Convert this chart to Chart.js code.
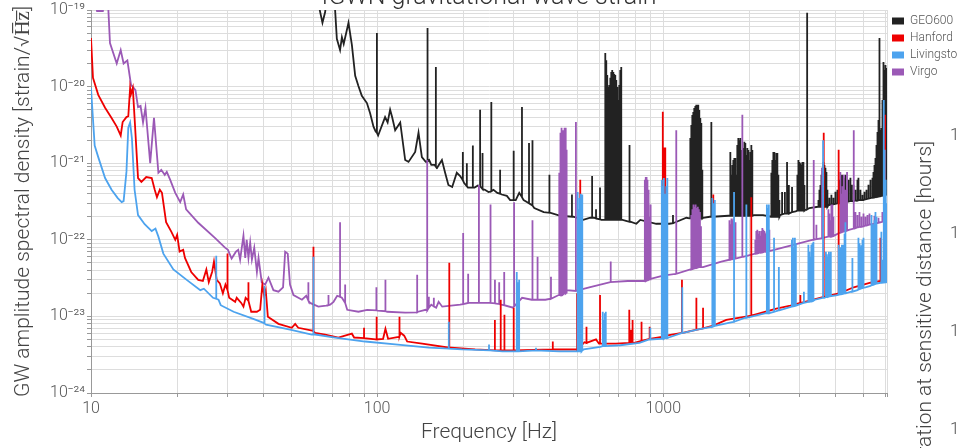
<!DOCTYPE html>
<html><head><meta charset="utf-8">
<script src="https://cdn.jsdelivr.net/npm/chart.js@4.4.1/dist/chart.umd.min.js"></script>
<style>
html,body{margin:0;padding:0;background:#fff;}
#wrap{position:relative;width:959px;height:448px;overflow:hidden;background:#fff;}
#main{position:absolute;left:0;top:-20px;}
#side{position:absolute;left:895px;top:0;}
</style></head><body>
<div id="wrap">
<canvas id="main" width="1010" height="468"></canvas>
<canvas id="side" width="200" height="700"></canvas>
</div>
<script>
const chartTitle = 'IGWN gravitational wave strain';
const xAxisTitle = 'Frequency [Hz]';
const yAxisTitle = 'GW amplitude spectral density [strain/\u221AH\u0305z\u0305]';
const rightAxisTitle = 'Duration at sensitive distance [hours]';
const seriesNames = ['GEO600', 'Hanford', 'Livingston', 'Virgo'];
const seriesColors = ['#222222', '#ee0000', '#4da3ee', '#9b59b6'];

const xMajorTicks = [10, 100, 1000];
const xTickLabels = ['10', '100', '1000'];
const yMajorTicks = [1e-24, 1e-23, 1e-22, 1e-21, 1e-20, 1e-19];
const yTickLabels = ['10\u207B\u00B2\u2074', '10\u207B\u00B2\u00B3', '10\u207B\u00B2\u00B2', '10\u207B\u00B2\u00B9', '10\u207B\u00B2\u2070', '10\u207B\u00B9\u2079'];
const rightMajorTicks = [1, 10, 100, 1000];
const rightTickLabels = ['10\u2070', '10\u00B9', '10\u00B2', '10\u00B3'];

// ---- GEO600: smooth floor [Hz, strain] and narrow lines [Hz, floor, peak]
const geoBase = [
[53.8,5e-18],[62.9,1.03e-19],[64.4,6.8e-20],[65.8,9.4e-20],[67.1,1.8e-19],[70.2,1.8e-19],[71.3,1.0e-19],[72.3,4.2e-20],[74.2,3.0e-20],[75.3,4.4e-20],
[76.4,3.6e-20],[79.4,6.8e-20],[81.6,3.5e-20],[83.8,1.38e-20],[86.0,1.02e-20],[88.4,7.6e-21],[92.1,6.1e-21],[94.5,4.5e-21],[97.1,3.0e-21],[98.8,2.6e-21],
[100.8,2.3e-21],[106.6,4.0e-21],[108.8,3.4e-21],[111,5.0e-21],[112.8,4.0e-21],[115.6,2.7e-21],[120.4,3.4e-21],[125.3,1.1e-21],[128.7,1.04e-21],[135.8,1.4e-21],
[139.5,2.5e-21],[143.3,1.2e-21],[147.8,1.04e-21],[152,1.1e-21],[154.6,9.5e-22],[158.8,9.5e-22],[162,8.7e-22],[168.4,1.1e-21],[172.8,7.5e-22],[177.4,5.2e-22],
[182.9,4.9e-22],[189.8,7.5e-22],[195,6.8e-22],[201.4,5.5e-22],[208,4.8e-22],[219,4.8e-22],[225,5.1e-22],[238,4.5e-22],[245,4.2e-22],[255,4.5e-22],
[263,4.1e-22],[272.5,3.9e-22],[284,3.75e-22],[291.6,3.3e-22],[305,3.3e-22],[313.7,4.1e-22],[325,3.3e-22],[334.7,3.1e-22],[354,2.6e-22],[382,2.3e-22],
[404,2.25e-22],[437,2.06e-22],[484.5,2.0e-22],[525,1.82e-22],[556,1.94e-22],[571.5,1.94e-22],[607,1.82e-22],[625,1.82e-22],[720,1.82e-22],[767,1.72e-22],
[805,1.62e-22],[831,1.82e-22],[945,1.62e-22],[1049,1.62e-22],[1092,1.67e-22],[1204,1.94e-22],[1235,1.9e-22],[1377,1.94e-22],[1454,2.0e-22],[1490,2.0e-22],
[1688,2.06e-22],[2073,2.1e-22],[2231,2.1e-22],[2380,2.0e-22],[2560,2.1e-22],[2900,2.35e-22],[3130,2.45e-22],[3240,2.6e-22],[3470,2.7e-22],[3780,2.85e-22],
[4360,3.1e-22],[5000,3.3e-22],[6050,3.9e-22]];
const geoSpikes = [
[99.8,2.5e-21,5.0e-20],[150,1.05e-21,5.8e-20],[160.4,9.0e-22,1.8e-20],[199.3,6.0e-22,1.4e-21],[205.8,5.0e-22,1.0e-21],[216,4.8e-22,1.7e-21],[229,5.0e-22,5.0e-21],[233.5,4.6e-22,1.36e-21],[250.6,4.3e-22,6.3e-21],[269,4.0e-22,8.2e-22],
[300,3.3e-22,1.45e-21],[320.7,3.6e-22,5.4e-21],[339.4,3.0e-22,1.84e-21],[349,2.8e-22,2.0e-21],[400,2.25e-22,7.05e-22],[479.5,2.0e-22,3.9e-22],[564,1.94e-22,6.8e-22],[582,1.9e-22,2.5e-22],[601,1.85e-22,4.8e-22],
[627,1.82e-22,2.75e-20],[632,1.82e-22,2.2e-20],[637,1.82e-22,1.42e-20],[642,1.82e-22,9.9e-21],[647.5,1.82e-22,1.05e-20],[653,1.82e-22,1.3e-20],[658,1.82e-22,1.55e-20],[663,1.82e-22,1.65e-20],[669,1.82e-22,1.55e-20],[674,1.82e-22,1.46e-20],
[679.5,1.82e-22,1.42e-20],[685,1.82e-22,1.22e-20],[690.5,1.82e-22,9.9e-21],[696,1.82e-22,6.7e-21],[701.7,1.82e-22,1.05e-20],[707.4,1.82e-22,1.65e-20],[713,1.82e-22,1.8e-20],
[762,1.72e-22,1.73e-21],[1081,1.65e-22,2.1e-22],
[1243,1.9e-22,2.14e-21],[1253,1.9e-22,3.16e-21],[1263,1.9e-22,4.27e-21],[1273,1.9e-22,4.67e-21],[1283,1.9e-22,5.27e-21],[1294,1.9e-22,5.6e-21],[1304,1.9e-22,5.78e-21],[1315,1.9e-22,5.78e-21],[1325,1.9e-22,5.78e-21],[1336,1.9e-22,4.95e-21],
[1347,1.9e-22,3.9e-21],[1358,1.9e-22,3.35e-21],[1369,1.9e-22,8.2e-22],
[1472,2.0e-22,3.45e-21],
[1715,2.06e-22,1.4e-21],[1729,2.06e-22,7.05e-22],[1743,2.06e-22,9.5e-22],[1757,2.06e-22,1.1e-21],[1771,2.06e-22,1.17e-21],[1785,2.06e-22,1.17e-21],[1800,2.06e-22,7.05e-22],[1814,2.06e-22,1.73e-21],[1829,2.06e-22,2.14e-21],[1844,2.06e-22,2.0e-21],
[1859,2.06e-22,2.14e-21],[1874,2.06e-22,1.49e-21],[1889,2.06e-22,1.1e-21],[1904,2.06e-22,1.58e-21],[1920,2.06e-22,1.9e-21],[1935,2.06e-22,1.84e-21],[1951,2.06e-22,1.28e-21],[1967,2.06e-22,1.58e-21],[1983,2.06e-22,1.49e-21],[1999,2.06e-22,1.1e-21],
[2015,2.06e-22,1.4e-21],[2031,2.06e-22,1.73e-21],[2047,2.06e-22,1.49e-21],
[2386,2.0e-22,7.5e-22],[2405,2.0e-22,1.1e-21],[2425,2.0e-22,1.4e-21],[2444,2.0e-22,1.4e-21],[2464,2.0e-22,1.1e-21],[2484,2.0e-22,1.36e-21],[2504,2.0e-22,1.36e-21],[2524,2.0e-22,7.05e-22],[2545,2.0e-22,3.3e-22],
[2601,2.15e-22,4.2e-22],[2660,2.2e-22,4.2e-22],[2707,2.2e-22,1.04e-21],[2747,2.2e-22,5.2e-22],[2818,2.3e-22,4.9e-22],
[2942,2.4e-22,7.05e-22],[2966,2.4e-22,1.1e-21],[2990,2.4e-22,1.04e-21],[3014,2.4e-22,1.0e-21],[3038,2.4e-22,9.5e-22],[3063,2.4e-22,1.04e-21],[3088,2.4e-22,1.04e-21],[3113,2.4e-22,5.2e-22],
[3182,2.5e-22,9.2e-20],
[3485,2.7e-22,3.3e-22],[3513,2.7e-22,4.5e-22],[3541,2.7e-22,5.2e-22],[3570,2.7e-22,7.05e-22],[3599,2.7e-22,8.7e-22],[3628,2.7e-22,1.04e-21],[3657,2.7e-22,9.5e-22],[3687,2.7e-22,8.7e-22],[3716,2.7e-22,7.7e-22],[3746,2.7e-22,4.5e-22],
[3806,2.85e-22,3.53e-22],[3868,2.9e-22,3.87e-22],[3931,2.9e-22,3.53e-22],[3995,2.95e-22,4.23e-22],[4060,3.0e-22,4.49e-22],[4126,3.0e-22,6.07e-22],[4193,3.0e-22,7.05e-22],[4227,3.05e-22,7.05e-22],[4261,3.05e-22,6.44e-22],[4330,3.1e-22,7.05e-22],
[4365,3.1e-22,4.49e-22],[4436,3.15e-22,6.07e-22],[4508,3.2e-22,6.44e-22],[4544,3.2e-22,5.22e-22],[4618,3.2e-22,5.22e-22],[4693,3.25e-22,4.49e-22],[4770,3.25e-22,6.07e-22],[4808,3.3e-22,6.44e-22],[4886,3.3e-22,4.49e-22],[4966,3.3e-22,3.87e-22],
[5047,3.35e-22,4.23e-22],[5129,3.4e-22,4.49e-22],[5212,3.45e-22,5.22e-22],[5297,3.5e-22,6.07e-22],[5383,3.55e-22,6.44e-22],[5426,3.55e-22,7.7e-22],[5470,3.6e-22,9.5e-22],[5514,3.6e-22,1.17e-21],[5559,3.65e-22,1.73e-21],[5604,3.65e-22,2.56e-21],
[5649,3.7e-22,3.67e-21],[5695,3.7e-22,4.3e-20],[5741,3.75e-22,2.72e-21],[5787,3.75e-22,2.89e-21],[5834,3.8e-22,6.7e-21],[5881,3.8e-22,2.1e-20],[5928,3.85e-22,1.65e-20],[5976,3.85e-22,1.92e-20],[6024,3.9e-22,1.75e-20],[6045,3.9e-22,1.65e-20]];

// ---- Hanford
const hanBase = [
[10,4.3e-20],[10.16,1.3e-20],[10.6,7.8e-21],[11.2,5.3e-21],[11.8,3.9e-21],[12.3,3.0e-21],[12.7,2.3e-21],[12.9,3.45e-21],[13.3,4.0e-21],[13.5,4.1e-21],
[13.7,9.6e-21],[13.8,8.0e-21],[14.0,9.6e-21],[14.2,3.9e-21],[14.6,6.4e-22],[15.0,5.7e-22],[15.6,6.6e-22],[16.3,6.4e-22],[16.7,4.5e-22],[17.0,3.6e-22],
[17.4,4.5e-22],[17.7,4.1e-22],[18.3,1.7e-22],[19.1,1.27e-22],[19.7,1.0e-22],[20.0,1.16e-22],[20.4,7.0e-23],[21.0,7.4e-23],[21.3,5.8e-23],[22.4,3.8e-23],
[23.7,3.0e-23],[24.6,2.9e-23],[25.3,4.1e-23],[25.8,2.8e-23],[26.5,3.8e-23],[26.9,5.2e-23],[27.5,3.0e-23],[28.2,2.7e-23],[28.9,2.0e-23],[29.5,2.6e-23],
[30.4,1.75e-23],[31.9,1.55e-23],[32.3,1.75e-23],[33.5,1.5e-23],[34.1,1.34e-23],[34.7,1.75e-23],[36.3,1.15e-23],[38.0,1.15e-23],[39.0,1.22e-23],[39.7,2.6e-23],
[40.3,1.86e-23],[40.8,2.2e-23],[41.5,9.9e-24],[45.2,8.0e-24],[50.3,7.1e-24],[51.7,8.0e-24],[53.0,7.1e-24],[59.3,6.5e-24],[60.7,6.1e-24],[65.8,5.8e-24],
[73.2,5.3e-24],[81.6,5.95e-24],[83.1,5.3e-24],[98.8,5.0e-24],[104.9,5.1e-24],[106.9,6.9e-24],[109.2,5.1e-24],[118.9,5.4e-24],[120.8,6.1e-24],[124.3,5.6e-24],
[127.3,4.7e-24],[143.7,4.4e-24],[181.4,3.9e-24],[220,3.7e-24],[300,3.6e-24],[409,3.7e-24],[496,3.7e-24],[530,4.6e-24],[582,5.0e-24],[596,4.4e-24],
[683,4.4e-24],[792,4.5e-24],[842,4.8e-24],[988,5.4e-24],[1024,5.6e-24],[1170,6.1e-24],[1315,6.7e-24],[1502,7.6e-24],[1660,9.0e-24],[1943,9.9e-24],
[2484,1.26e-23],[2781,1.38e-23],[3030,1.5e-23],[3655,1.8e-23],[4120,2.0e-23],[4630,2.4e-23],[5296,2.75e-23],[5926,3.0e-23],[6050,3.1e-23]];
const hanSpikes = [
[30.0,2.2e-23,6.6e-23],[35.5,1.6e-23,2.8e-23],[59.9,6.4e-24,8.1e-23],[90.0,5.2e-24,7.1e-24],[99.6,5.0e-24,9.9e-24],[119.7,5.5e-24,9.9e-24],[178.7,3.9e-24,5.0e-23],[257.9,3.6e-24,9.0e-24],[270.3,3.6e-24,1.65e-23],[278.5,3.6e-24,1.05e-23],
[300.1,3.6e-24,1.3e-23],[411,3.7e-24,4.7e-24],[499.7,3.7e-24,2.0e-23],[512.6,4.0e-24,6.1e-22],[539,4.5e-24,7.3e-24],[601,4.4e-24,1.9e-23],[760.5,4.5e-24,1.22e-23],[770,4.5e-24,6.7e-24],[781,4.5e-24,9.0e-24],[838,4.8e-24,8.5e-24],
[896,5.1e-24,7.3e-24],[996,5.4e-24,4.7e-21],[1003,5.4e-24,1.6e-21],[1010,5.4e-24,1.5e-21],[1016,5.5e-24,1.6e-21],[1162,6.1e-24,3.0e-23],[1305,6.7e-24,1.75e-23],[1377,7.0e-24,1.3e-23],[1492,7.6e-24,3.9e-22],[2030,1.02e-23,3.6e-22],
[3013,1.5e-23,1.9e-23],[3636,1.8e-23,2.5e-21],[4100,2.0e-23,1.5e-21],[5740,2.9e-23,1.06e-22],[5956,3.0e-23,4.3e-21]];

// ---- Livingston
const livBase = [
[10,9.6e-21],[10.3,1.7e-21],[10.6,1.2e-21],[11.2,6.4e-22],[11.8,4.5e-22],[12.4,3.5e-22],[12.8,3.1e-22],[13.0,3.2e-22],[13.3,7.7e-22],[13.5,2.9e-21],
[13.7,3.4e-21],[13.9,2.1e-21],[14.2,4.5e-22],[14.6,2.1e-22],[15.4,1.6e-22],[16.3,1.3e-22],[16.8,1.4e-22],[17.2,1.1e-22],[17.9,6.6e-23],[19.4,4.1e-23],
[21.6,3.0e-23],[24.1,2.2e-23],[24.8,2.3e-23],[26.7,1.75e-23],[27.9,1.65e-23],[28.4,1.4e-23],[31.5,1.15e-23],[36.9,9.3e-24],[39.9,8.3e-24],[40.9,7.8e-24],
[49.6,6.7e-24],[59.1,5.8e-24],[60.7,5.8e-24],[71.3,5.3e-24],[90.8,4.7e-24],[115.6,4.3e-24],[151.6,3.9e-24],[198,3.7e-24],[248,3.6e-24],[274,3.5e-24],
[433,3.5e-24],[498,3.5e-24],[527,3.7e-24],[602,4.0e-24],[707,4.2e-24],[825,4.5e-24],[893,5.0e-24],[980,5.1e-24],[1045,5.3e-24],[1175,6.1e-24],
[1315,6.7e-24],[1472,7.3e-24],[1757,8.5e-24],[1935,9.6e-24],[2283,1.1e-23],[2544,1.2e-23],[2814,1.34e-23],[3088,1.5e-23],[3386,1.65e-23],[3655,1.75e-23],
[4059,1.9e-23],[4544,2.1e-23],[4769,2.2e-23],[5085,2.4e-23],[5296,2.5e-23],[5740,2.75e-23],[6050,2.8e-23]];
const livSpikes = [
[27.4,1.7e-23,6.2e-23],[40.4,8.1e-24,2.5e-23],[59.9,5.8e-24,6.0e-23],[178,3.8e-24,8.5e-24],[246,3.6e-24,4.3e-24],[307.5,3.5e-24,3.8e-23],[309.5,3.5e-24,1.2e-23],[311.5,3.5e-24,2.8e-23],[313.5,3.5e-24,3.0e-23],[359,3.6e-24,3.9e-24],
[502,3.5e-24,4.2e-22],[506,3.5e-24,2.5e-22],[510,3.5e-24,3.5e-22],[514,3.5e-24,4.0e-22],[518,3.5e-24,2.0e-22],[521,3.6e-24,3.9e-22],[614.5,4.1e-24,1.15e-23],[620,4.1e-24,9.0e-24],[625,4.1e-24,1.1e-23],[629.5,4.1e-24,1.15e-23],
[901,5.0e-24,7.1e-24],[988,5.1e-24,6.1e-22],[995,5.1e-24,5.0e-22],[1004,5.1e-24,6.4e-22],[1010,5.2e-24,4.0e-22],[1016,5.2e-24,3.3e-22],[1024,5.2e-24,5.0e-22],[1033,5.2e-24,6.4e-22],[1165,6.1e-24,2.4e-23],[1484,7.3e-24,3.5e-22],
[1499,7.4e-24,3.0e-22],[1514,7.5e-24,3.3e-22],[1767,8.5e-24,4.2e-22],[1951,9.6e-24,2.9e-22],[2301,1.1e-23,2.9e-22],[2320,1.1e-23,2.6e-22],[2338,1.1e-23,2.9e-22],[2438,1.15e-23,1.06e-22],[2534,1.2e-23,4.4e-23],
[2814,1.34e-23,1.0e-22],[2837,1.35e-23,1.06e-22],[2860,1.36e-23,8.0e-23],[2883,1.37e-23,1.06e-22],[2906,1.38e-23,9.0e-23],
[3100,1.5e-23,2.1e-23],
[3214,1.55e-23,8.6e-23],[3240,1.55e-23,7.0e-23],[3266,1.56e-23,6.0e-23],[3292,1.57e-23,8.6e-23],[3320,1.58e-23,9.0e-23],[3347,1.6e-23,9.4e-23],
[3617,1.75e-23,2.0e-21],
[3700,1.78e-23,7.0e-23],[3730,1.8e-23,6.5e-23],[3760,1.8e-23,6.0e-23],[3790,1.82e-23,7.0e-23],[3820,1.83e-23,6.5e-23],[3850,1.84e-23,7.0e-23],
[4100,1.92e-23,8.6e-23],[4135,1.93e-23,7.5e-23],[4170,1.95e-23,8.0e-23],[4210,1.96e-23,8.6e-23],[4260,1.98e-23,8.6e-23],[4300,2.0e-23,1.2e-22],[4329,2.0e-23,1.7e-22],
[4580,2.1e-23,5.8e-23],
[4808,2.25e-23,1.06e-22],[4850,2.27e-23,9.0e-23],[4886,2.3e-23,8.0e-23],[4925,2.32e-23,8.5e-23],[4966,2.35e-23,1.0e-22],[5008,2.37e-23,1.06e-22],
[5340,2.55e-23,2.1e-22],[5380,2.57e-23,1.6e-22],[5426,2.6e-23,1.6e-22],[5470,2.62e-23,1.8e-22],[5514,2.65e-23,2.3e-22],[5559,2.68e-23,2.0e-22],
[5782,2.75e-23,1.27e-22],[5834,2.76e-23,5.5e-23],
[5881,2.77e-23,6.7e-21],[5905,2.78e-23,3.0e-21],[5928,2.78e-23,1.5e-21],[5952,2.79e-23,1.0e-21],[5976,2.79e-23,6.1e-22],[6000,2.8e-23,4.0e-22],[6024,2.8e-23,3.0e-22],[6045,2.8e-23,2.5e-22]];

// ---- Virgo
const virBase = [
[10,2.5e-19],[10.5,9.7e-20],[11.0,9.7e-20],[11.2,1.5e-19],[11.5,1.0e-19],[11.65,3.7e-20],[12.3,2.0e-20],[12.7,3.0e-20],[13.0,2.0e-20],[13.4,2.2e-20],
[13.8,1.05e-20],[14.0,9.9e-21],[14.3,9.0e-21],[14.6,5.4e-21],[14.9,5.6e-21],[15.2,3.4e-21],[15.5,5.3e-21],[16.1,1.0e-21],[16.6,3.9e-21],[17.2,7.5e-22],
[17.6,8.2e-22],[18.1,7.05e-22],[18.4,7.7e-22],[18.9,6.1e-22],[19.7,4.1e-22],[20.5,3.1e-22],[21.0,3.9e-22],[21.5,2.5e-22],[23.7,1.67e-22],[27.1,1.06e-22],
[29.4,7.9e-23],[30.1,7.4e-23],[31.0,5.7e-23],[32.1,7.0e-23],[32.7,7.4e-23],[33.2,5.5e-23],[34.1,1.13e-22],[34.6,5.8e-23],[35.0,1.0e-22],[35.5,5.8e-23],
[36.0,9.2e-23],[36.5,5.5e-23],[37.2,7.9e-23],[38.0,3.8e-23],[38.5,5.8e-23],[39.5,2.8e-23],[40.6,2.6e-23],[41.7,3.2e-23],[43.4,2.2e-23],[45.2,2.1e-23],
[46.9,2.4e-23],[47.7,7.0e-23],[48.7,6.6e-23],[49.6,2.6e-23],[51.0,1.9e-23],[54.6,1.65e-23],[56.5,1.86e-23],[58.3,1.5e-23],[62.3,1.34e-23],[66.3,1.38e-23],
[68.5,1.42e-23],[70.4,1.55e-23],[72.5,1.86e-23],[75.3,1.75e-23],[78.6,1.22e-23],[86.0,1.15e-23],[92.3,1.22e-23],[100.4,1.19e-23],[108.4,1.15e-23],[125.3,1.12e-23],
[139,1.15e-23],[147.8,1.22e-23],[154.6,1.42e-23],[160.8,1.3e-23],[164,1.55e-23],[168.8,1.34e-23],[195.1,1.42e-23],[213,1.5e-23],[245,1.5e-23],[271,1.42e-23],
[298.5,1.3e-23],[321,1.75e-23],[347,1.65e-23],[387,1.65e-23],[431,1.9e-23],[460,2.2e-23],[551,2.4e-23],[653,2.8e-23],[751,2.9e-23],[855,2.9e-23],
[998,3.4e-23],[1243,4.1e-23],[1377,4.4e-23],[1595,5.2e-23],[1900,6.0e-23],[2383,7.2e-23],[2781,8.4e-23],[3316,1.0e-22],[3899,1.12e-22],[4452,1.35e-22],
[5008,1.5e-22],[6050,1.75e-22]];
const virSpikes = [
[57.5,1.6e-23,2.8e-23],[67.6,1.4e-23,1.9e-23],[74.2,1.8e-23,1.7e-22],[77.3,1.5e-23,2.6e-23],[99.4,1.2e-23,2.4e-23],[106.9,1.17e-23,3.0e-23],[138,1.13e-23,3.5e-23],[149.6,1.2e-23,1.1e-21],[151.6,1.3e-23,1.8e-23],[157.8,1.35e-23,1.75e-23],
[199.8,1.45e-23,1.23e-22],[208,1.5e-23,3.6e-23],[226.8,1.5e-23,5.2e-22],[249,1.5e-23,2.9e-22],[258,1.48e-23,3.0e-23],[267,1.45e-23,2.8e-23],[278,1.4e-23,3.8e-23],[301,1.35e-23,3.1e-22],[349,1.65e-23,1.8e-22],[363.6,1.65e-23,6.0e-23],
[405,1.7e-23,3.3e-23],
[433,1.9e-23,7.5e-22],[436,1.9e-23,1.5e-21],[438,1.9e-23,2.5e-21],[441,1.9e-23,2.9e-21],[444,1.95e-23,2.0e-21],[447,1.95e-23,2.7e-21],[450,2.0e-23,2.4e-21],[453,2.0e-23,2.9e-21],[456,2.0e-23,2.9e-21],[459,2.05e-23,1.5e-21],
[495,2.15e-23,3.45e-21],[655,2.8e-23,5.2e-23],
[862,2.9e-23,6.1e-22],[866,2.9e-23,5.5e-22],[870,2.9e-23,6.6e-22],[874,2.95e-23,6.6e-22],[878,2.95e-23,5.0e-22],[882,3.0e-23,6.1e-22],[886,3.0e-23,4.5e-22],[890,3.0e-23,3.5e-22],[895,3.05e-23,2.0e-22],[900,3.05e-23,2.9e-22],[905,3.1e-23,1.5e-22],
[1110,3.6e-23,2.7e-21],
[1253,4.1e-23,2.1e-22],[1264,4.15e-23,2.5e-22],[1275,4.2e-23,2.9e-22],[1286,4.25e-23,2.7e-22],[1297,4.3e-23,2.9e-22],[1308,4.3e-23,2.6e-22],[1320,4.35e-23,2.7e-22],[1331,4.4e-23,2.5e-22],[1343,4.4e-23,2.3e-22],[1354,4.4e-23,1.5e-22],
[1703,5.5e-23,1.8e-22],[1717,5.5e-23,1.6e-22],[1731,5.55e-23,1.9e-22],[1745,5.6e-23,1.8e-22],[1759,5.6e-23,1.9e-22],[1773,5.65e-23,1.7e-22],[1788,5.7e-23,1.7e-22],
[1889,6.0e-23,4.3e-21],
[2097,6.6e-23,1.0e-22],[2114,6.6e-23,1.3e-22],[2131,6.7e-23,1.35e-22],[2148,6.7e-23,1.2e-22],[2166,6.8e-23,1.3e-22],[2184,6.8e-23,1.13e-22],[2201,6.8e-23,1.3e-22],[2219,6.9e-23,1.43e-22],[2237,6.9e-23,1.35e-22],[2255,7.0e-23,1.3e-22],
[2274,7.0e-23,1.2e-22],[2292,7.0e-23,1.25e-22],[2311,7.1e-23,1.3e-22],[2330,7.1e-23,1.35e-22],[2348,7.1e-23,1.35e-22],
[3355,1.0e-22,1.1e-21],[3428,1.02e-22,1.57e-22],[3589,1.05e-22,8.7e-22],
[3775,1.1e-22,2.5e-22],[3806,1.1e-22,2.2e-22],[3837,1.1e-22,1.8e-22],[3868,1.1e-22,2.9e-22],[3899,1.12e-22,2.9e-22],[3931,1.12e-22,2.0e-22],
[4157,1.25e-22,7.7e-22],[4190,1.25e-22,4.0e-22],[4226,1.27e-22,5.0e-22],[4272,1.28e-22,7.05e-22],[4330,1.3e-22,4.5e-22],[4387,1.32e-22,7.7e-22],
[4630,1.4e-22,2.7e-21],
[4693,1.42e-22,2.3e-22],[4770,1.45e-22,2.1e-22],[4848,1.47e-22,2.3e-22],[4926,1.48e-22,2.0e-22],[5007,1.5e-22,2.2e-22],[5088,1.53e-22,2.0e-22],[5170,1.55e-22,2.1e-22],[5254,1.58e-22,2.2e-22],
[5470,1.62e-22,2.06e-22],[5650,1.67e-22,1.94e-22],[5830,1.72e-22,2.3e-22],[5976,1.74e-22,2.2e-22]];

const xMin = 10, xMax = 6050, yMin = 1e-24, yMax = 1e-19;

// Merge floor points and line features (each line = floor -> peak -> floor at the same frequency)
function buildSeries(base, spikes) {
  const items = base.map(p => ({ f: p[0], k: 0, pts: [{ x: p[0], y: p[1] }] }))
    .concat(spikes.map(s => ({ f: s[0], k: 1, pts: [{ x: s[0], y: s[1] }, { x: s[0], y: s[2] }, { x: s[0], y: s[1] }] })));
  items.sort((a, b) => (a.f - b.f) || (a.k - b.k));
  return items.flatMap(it => it.pts);
}
function gridPositions(startExp, endExp, maxVal) {
  const out = [];
  for (let e = startExp; e <= endExp; e++) {
    for (let m = 1; m <= 9; m++) {
      const v = m * Math.pow(10, e);
      if (v <= maxVal * 1.000001) out.push(v);
    }
  }
  return out;
}
function labelFor(value, majors, labels) {
  const i = majors.findIndex(t => Math.abs(value / t - 1) < 1e-6);
  return i >= 0 ? labels[i] : '';
}
const xGrid = gridPositions(1, 3, xMax).concat([xMax]);
const yGrid = gridPositions(-24, -20, yMax).concat([yMax]);

const lightFont = (size, lh) => (lh ? { family: 'Roboto', size: size, weight: '300', lineHeight: lh } : { family: 'Roboto', size: size, weight: '300' });
const orders = [4, 2, 1, 3];
const seriesData = [buildSeries(geoBase, geoSpikes), buildSeries(hanBase, hanSpikes), buildSeries(livBase, livSpikes), buildSeries(virBase, virSpikes)];

new Chart(document.getElementById('main'), {
  type: 'line',
  data: {
    datasets: seriesNames.map((name, i) => ({
      label: name,
      data: seriesData[i],
      borderColor: seriesColors[i],
      backgroundColor: seriesColors[i],
      borderWidth: 1.8,
      pointRadius: 0,
      tension: 0,
      order: orders[i],
      clip: 0
    }))
  },
  options: {
    responsive: false,
    animation: false,
    events: [],
    parsing: false,
    layout: { padding: { left: 0, right: 53, top: 0, bottom: 0 } },
    plugins: {
      tooltip: { enabled: false },
      title: {
        display: true, text: chartTitle, fullSize: false,
        font: lightFont(25, 1.0), color: '#333', padding: { top: 5, bottom: 0 }
      },
      legend: {
        display: true, position: 'right', align: 'start', fullSize: false, maxWidth: 70,
        labels: {
          boxWidth: 12, boxHeight: 7, padding: 5, font: lightFont(12), color: '#555',
          sort: (a, b) => a.datasetIndex - b.datasetIndex,
          generateLabels: (chart) => Chart.defaults.plugins.legend.labels.generateLabels(chart).map(it => Object.assign(it, { lineWidth: 0 }))
        }
      }
    },
    scales: {
      x: {
        type: 'logarithmic', min: xMin, max: xMax,
        afterBuildTicks: (axis) => { axis.ticks = xGrid.map(v => ({ value: v })); },
        afterFit: (axis) => { axis.height = 55; },
        ticks: {
          autoSkip: false, maxRotation: 0, minRotation: 0, padding: 2,
          font: lightFont(16), color: '#555',
          callback: (v) => labelFor(v, xMajorTicks, xTickLabels)
        },
        grid: { color: '#dddddd', lineWidth: 1, tickLength: 4, tickColor: '#999' },
        border: { display: true, color: '#999', width: 1 },
        title: { display: true, text: xAxisTitle, font: lightFont(21), color: '#444', padding: { top: 0, bottom: 3 } }
      },
      y: {
        type: 'logarithmic', min: yMin, max: yMax,
        afterBuildTicks: (axis) => { axis.ticks = yGrid.map(v => ({ value: v })); },
        afterFit: (axis) => { axis.width = 91; },
        ticks: {
          autoSkip: false, padding: 2,
          font: lightFont(16), color: '#555',
          callback: (v) => labelFor(v, yMajorTicks, yTickLabels)
        },
        grid: { color: '#dddddd', lineWidth: 1, tickLength: 4, tickColor: '#999' },
        border: { display: true, color: '#999', width: 1 },
        title: { display: true, text: yAxisTitle, font: lightFont(21), color: '#444', padding: { top: 11, bottom: 0 } }
      }
    }
  }
});

new Chart(document.getElementById('side'), {
  type: 'line',
  data: { datasets: [] },
  options: {
    responsive: false,
    animation: false,
    events: [],
    layout: { padding: { left: 0, right: 0, top: 106.5, bottom: 186.5 } },
    plugins: { legend: { display: false }, tooltip: { enabled: false }, title: { display: false } },
    scales: {
      x: { type: 'linear', display: false, min: 0, max: 1 },
      y: {
        type: 'logarithmic', position: 'left', min: 0.1406, max: 2000,
        afterBuildTicks: (axis) => { axis.ticks = rightMajorTicks.map(v => ({ value: v })); },
        afterFit: (axis) => { axis.width = 86; },
        ticks: {
          autoSkip: false, padding: 2, font: lightFont(17), color: '#555',
          callback: (v) => labelFor(v, rightMajorTicks, rightTickLabels)
        },
        grid: { display: false, tickLength: 4 },
        border: { display: false },
        title: { display: true, text: rightAxisTitle, font: lightFont(21), color: '#444', padding: { top: 18, bottom: 0 } }
      }
    }
  }
});
</script>
</body></html>
